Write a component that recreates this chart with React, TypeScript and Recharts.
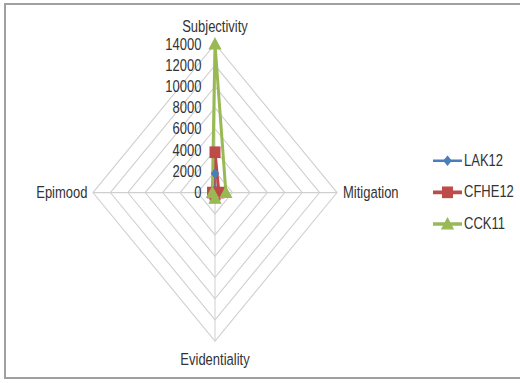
import React from 'react';
import { RadarChart, Radar, PolarGrid, PolarAngleAxis, PolarRadiusAxis, Legend } from 'recharts';

// Hedging categories, clockwise from the top
const categories = ['Subjectivity', 'Mitigation', 'Evidentiality', 'Epimood'];

// Counts per course
const lak12 = [1800, 100, 60, 120];
const cfhe12 = [3800, 450, 200, 280];
const cck11 = [14000, 1250, 550, 300];

const radiusTicks = [0, 2000, 4000, 6000, 8000, 10000, 12000, 14000];

const seriesList = [
  { key: 'LAK12', color: '#4a7ebb', shape: 'diamond', width: 2 },
  { key: 'CFHE12', color: '#be4b48', shape: 'square', width: 3 },
  { key: 'CCK11', color: '#98b954', shape: 'triangle', width: 3 },
];

const data = categories.map((c, i) => ({
  category: c,
  LAK12: lak12[i],
  CFHE12: cfhe12[i],
  CCK11: cck11[i],
}));

const FONT = '"Liberation Sans", Arial, sans-serif';
const TEXT = '#333333';
const STRETCH = 1.2172; // vertical stretch of the whole plot

const Marker = ({ shape, x, y, color }: { shape: string; x: number; y: number; color: string }) => {
  if (shape === 'square') {
    return <rect x={x - 5} y={y - 4.3} width={10} height={8.6} fill={color} stroke={color} />;
  }
  if (shape === 'triangle') {
    return <polygon points={`${x},${y - 4.8} ${x + 5.7},${y + 4} ${x - 5.7},${y + 4}`} fill={color} stroke={color} />;
  }
  return <polygon points={`${x},${y - 3.6} ${x + 3.6},${y} ${x},${y + 3.6} ${x - 3.6},${y}`} fill={color} stroke={color} />;
};

const makeDot = (shape: string, color: string) => (props: any) => {
  const { cx, cy, index } = props;
  return <Marker key={`${shape}-${index}`} shape={shape} x={cx} y={cy} color={color} />;
};

const AngleTick = (props: any) => {
  const { x, y, payload } = props;
  const v = payload.value;
  let tx = x;
  let ty = y;
  let anchor: 'start' | 'middle' | 'end' = 'middle';
  if (v === 'Subjectivity') ty = y - 6;
  else if (v === 'Evidentiality') ty = y + 7.5;
  else if (v === 'Mitigation') { anchor = 'start'; tx = x - 2; }
  else if (v === 'Epimood') { anchor = 'end'; tx = x + 2.5; }
  return (
    <text x={tx} y={ty} textAnchor={anchor} dominantBaseline="central" fontFamily={FONT} fontSize={13} fill={TEXT}>
      {v}
    </text>
  );
};

const RadiusTick = (props: any) => {
  const { x, y, payload } = props;
  return (
    <text x={x - 13.5} y={y} textAnchor="end" dominantBaseline="central" fontFamily={FONT} fontSize={13} fill={TEXT}>
      {payload.value}
    </text>
  );
};

const renderLegend = () => (
  <div style={{ display: 'flex', flexDirection: 'column' }}>
    {seriesList.map((s) => (
      <div key={s.key} style={{ height: 26, display: 'flex', alignItems: 'center' }}>
        <svg width={31} height={12} style={{ display: 'block' }}>
          <line x1={1} y1={6} x2={30} y2={6} stroke={s.color} strokeWidth={s.width} />
          <Marker shape={s.shape} x={15.5} y={6} color={s.color} />
        </svg>
        <span style={{ fontFamily: FONT, fontSize: 13, color: TEXT, marginLeft: 1, lineHeight: '14px' }}>{s.key}</span>
      </div>
    ))}
  </div>
);

export default function App() {
  return (
    <div style={{ position: 'absolute', left: 0, top: 0, width: 520, height: 383, overflow: 'hidden', background: '#fff' }}>
      <div
        style={{
          position: 'absolute',
          left: 4,
          top: 3,
          width: 530,
          height: 376,
          border: '2px solid #a0a0a0',
          boxSizing: 'border-box',
        }}
      />
      <div style={{ position: 'absolute', left: 0, top: 0, transform: `scaleY(${STRETCH})`, transformOrigin: '0 0' }}>
        <RadarChart
          width={520}
          height={315}
          data={data}
          cx={215}
          cy={158.2}
          outerRadius={122}
          margin={{ top: 0, right: 0, bottom: 0, left: 0 }}
        >
          <PolarGrid gridType="polygon" stroke="#cfcfcf" strokeWidth={1} />
          <PolarAngleAxis dataKey="category" tick={AngleTick} tickLine={false} axisLine={false} />
          <PolarRadiusAxis
            angle={90}
            domain={[0, 14000]}
            ticks={radiusTicks as any}
            tickCount={8}
            tick={RadiusTick}
            axisLine={false}
            tickLine={false}
          />
          {seriesList.map((s) => (
            <Radar
              key={s.key}
              name={s.key}
              dataKey={s.key}
              stroke={s.color}
              strokeWidth={s.width}
              fill="none"
              fillOpacity={0}
              dot={makeDot(s.shape, s.color)}
              isAnimationActive={false}
            />
          ))}
          <Legend
            content={renderLegend}
            wrapperStyle={{ position: 'absolute', left: 432, top: 119, width: 90 }}
          />
        </RadarChart>
      </div>
    </div>
  );
}
